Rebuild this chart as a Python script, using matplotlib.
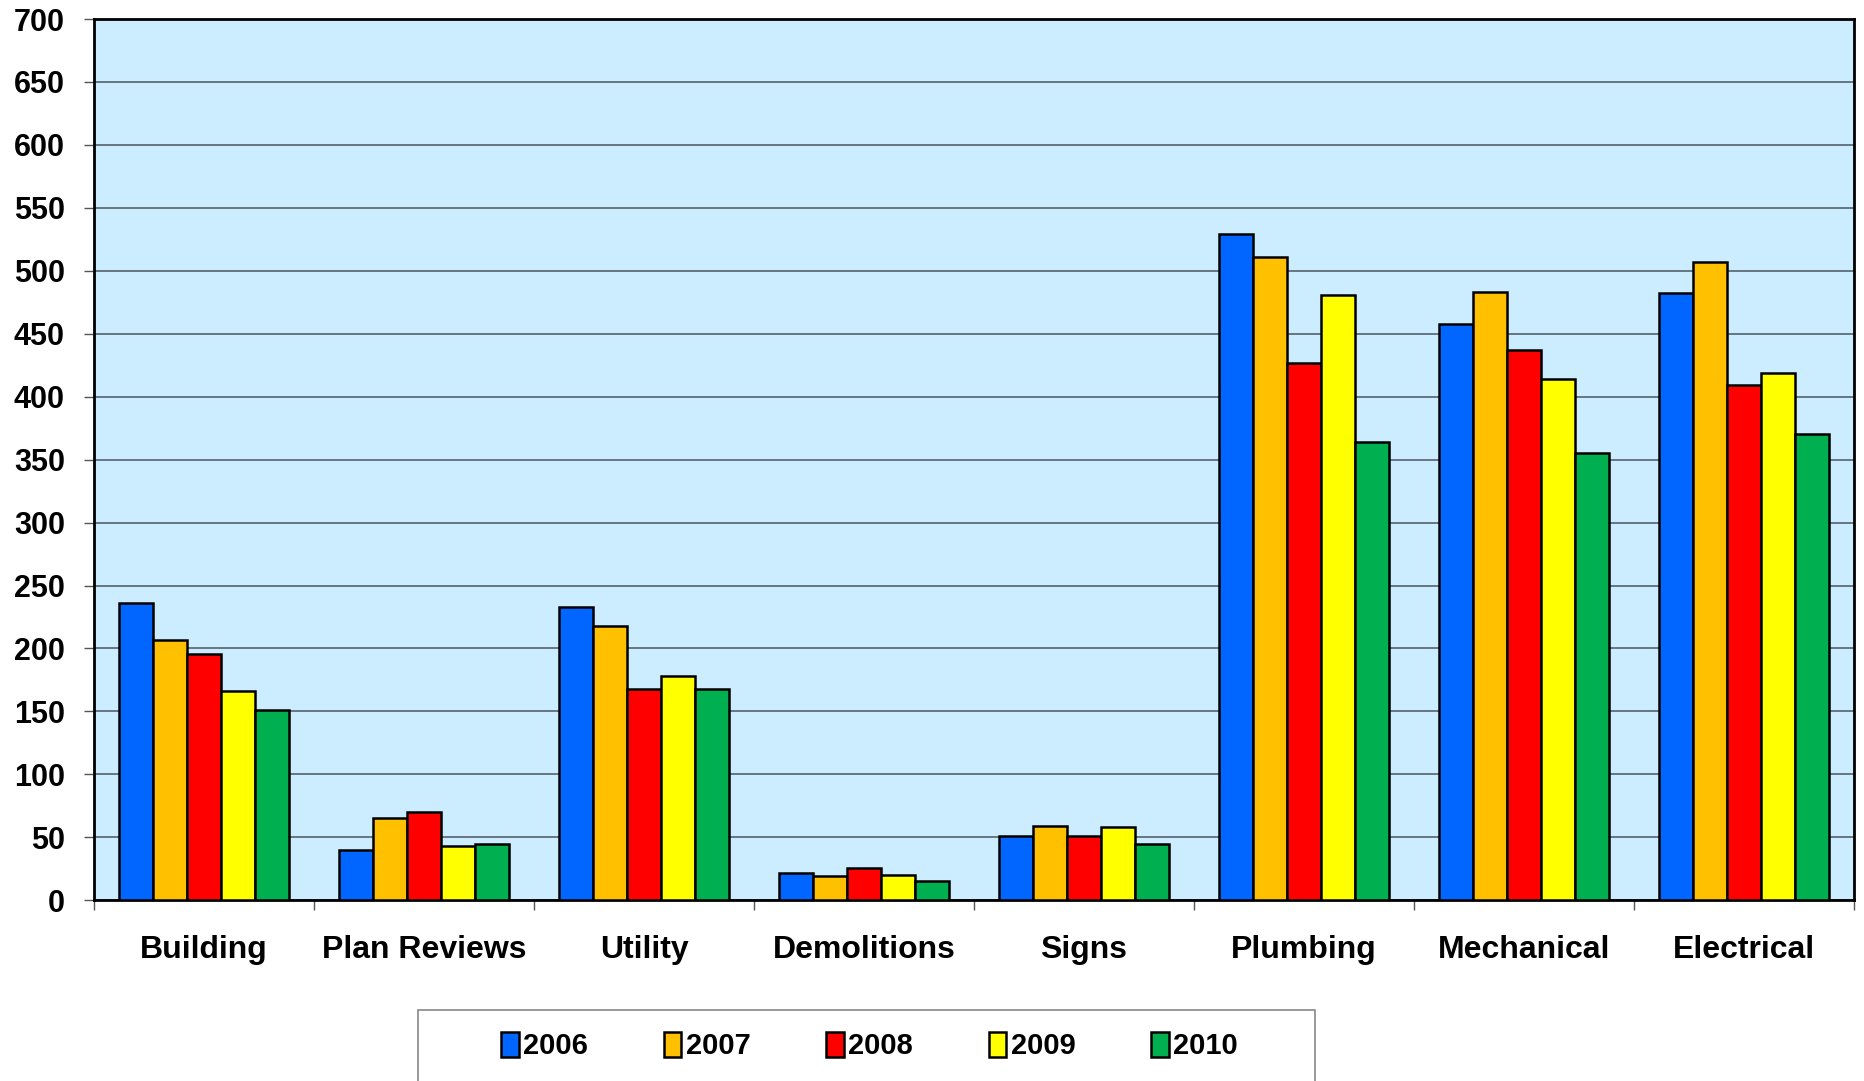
import matplotlib
matplotlib.use("Agg")
import matplotlib.pyplot as plt
import numpy as np
from matplotlib.patches import Rectangle

categories = ["Building", "Plan Reviews", "Utility", "Demolitions", "Signs",
              "Plumbing", "Mechanical", "Electrical"]
years = ["2006", "2007", "2008", "2009", "2010"]
v2006 = [236, 40, 233, 22, 51, 529, 458, 482]
v2007 = [207, 65, 218, 19, 59, 511, 483, 507]
v2008 = [196, 70, 168, 26, 51, 427, 437, 409]
v2009 = [166, 43, 178, 20, 58, 481, 414, 419]
v2010 = [151, 45, 168, 15, 45, 364, 355, 370]
series = [v2006, v2007, v2008, v2009, v2010]
colors = ["#0066FF", "#FFC000", "#FF0000", "#FFFF00", "#00B050"]
yticks = list(range(0, 701, 50))

plt.rcParams['font.family'] = ['Liberation Sans', 'DejaVu Sans']
plt.rcParams['font.weight'] = 'bold'

fig = plt.figure(figsize=(18.64, 10.81), dpi=100)
ax = fig.add_axes([0.0504, 0.1672, 0.9442, 0.8152])
ax.set_facecolor("#CCECFF")

n = len(years)
bw = 1.0 / (n + 1.5)
x = np.arange(len(categories))
handles = []
for i, (vals, c, y) in enumerate(zip(series, colors, years)):
    off = (i - (n - 1) / 2) * bw
    b = ax.bar(x + off, vals, width=bw, color=c, edgecolor="black",
               linewidth=1.8, label=y, zorder=3)
    handles.append(b)

ax.set_xlim(-0.5, len(categories) - 0.5)
ax.set_ylim(0, 700)
ax.set_yticks(yticks)
ax.set_yticklabels([str(t) for t in yticks], fontsize=22, fontweight='bold')
ax.yaxis.grid(True, color="#4A5560", linewidth=1.1, zorder=0)
ax.set_axisbelow(True)

ax.set_xticks(x)
ax.set_xticklabels(categories, fontsize=23, fontweight='bold')
ax.set_xticks(np.arange(-0.5, len(categories)), minor=True)
ax.tick_params(axis='x', which='major', length=0, pad=25)
ax.tick_params(axis='x', which='minor', length=7, width=1, color="#555555", direction='out')
ax.tick_params(axis='y', length=7, width=1, color="#555555", direction='out', pad=14)

for s in ax.spines.values():
    s.set_linewidth(2)
    s.set_color("black")

# legend frame (extends below figure edge, as in original)
fig.patches.append(Rectangle((0.2245, -0.05), 0.7054 - 0.2245, 0.05 + 0.066,
                             transform=fig.transFigure, facecolor="white",
                             edgecolor="#888888", linewidth=1.2, zorder=0))
leg = fig.legend(handles=handles, labels=years, loc="center",
                 bbox_to_anchor=(0.4665, 0.032), ncol=5, frameon=False,
                 fontsize=21, handlelength=0.6, handleheight=0.9,
                 handletextpad=0.15, columnspacing=2.6)
for t in leg.get_texts():
    t.set_fontweight('bold')

fig.savefig("out.png", dpi=100)
